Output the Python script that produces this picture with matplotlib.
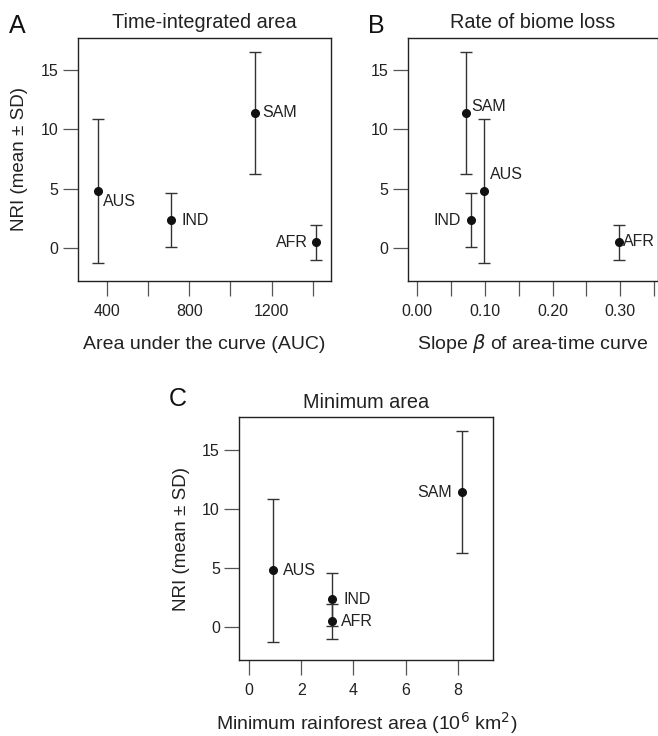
import matplotlib
matplotlib.use("Agg")
import matplotlib.pyplot as plt

plt.rcParams["font.family"] = ["Liberation Sans", "DejaVu Sans"]

# region data (NRI mean and SD are shared by all panels)
regions = ["AUS", "IND", "SAM", "AFR"]
nri_mean = [4.8, 2.33, 11.41, 0.46]
nri_sd = [6.05, 2.27, 5.16, 1.48]

auc = [353, 708, 1120, 1417]
slope = [0.0985, 0.0787, 0.0712, 0.298]
min_area = [0.92, 3.16, 8.15, 3.16]

# label offsets in pixels (dx, dy, ha)
offs_a = {"AUS": (5, -10, "left"), "IND": (11, 0, "left"), "SAM": (7, 0, "left"), "AFR": (-8, 0, "right")}
offs_b = {"AUS": (6, 17, "left"), "IND": (-10, 0, "right"), "SAM": (6, 6, "left"), "AFR": (4, 1, "left")}
offs_c = {"AUS": (10, 0, "left"), "IND": (12, 0, "left"), "SAM": (-10, 0, "right"), "AFR": (9, 0, "left")}

W, H = 658, 736
fig = plt.figure(figsize=(W / 100, H / 100), dpi=100)


def px_axes(l, t, r, b):
    return fig.add_axes([l / W, 1 - b / H, (r - l) / W, (b - t) / H])


def draw(ax, xs, offs, xlim, xticks, xlabels, title, xlabel, xlab_y, ylab_x, show_ylabel=True):
    for name, x, m, s in zip(regions, xs, nri_mean, nri_sd):
        ax.errorbar(x, m, yerr=s, fmt="none", ecolor="#333333", elinewidth=1.0,
                    capsize=4, capthick=1.0)
        ax.plot(x, m, "o", color="#111111", ms=5.5)
        dx, dy, ha = offs[name]
        ax.annotate(name, (x, m), xytext=(dx * 0.72, dy * 0.72), textcoords="offset points",
                    ha=ha, va="center", fontsize=11.5, color="#222222")
    ax.set_xlim(*xlim)
    ax.set_ylim(-2.8, 17.75)
    ax.set_xticks(xticks)
    ax.set_xticklabels(xlabels)
    ax.set_yticks([0, 5, 10, 15])
    ax.tick_params(length=10.5, width=0.9, color="#555555", labelsize=11.5,
                   labelcolor="#222222", direction="out")
    ax.tick_params(axis="x", pad=6)
    ax.tick_params(axis="y", pad=3.5)
    for sp in ax.spines.values():
        sp.set_linewidth(1.0)
        sp.set_color("#222222")
    ax.set_title(title, fontsize=14.3, pad=7, color="#222222")
    ax.set_xlabel(xlabel, fontsize=14, va="baseline", color="#222222")
    ax.xaxis.set_label_coords(0.5, xlab_y)
    if show_ylabel:
        ax.set_ylabel("NRI (mean ± SD)", fontsize=13.5, va="center", color="#222222")
        ax.yaxis.set_label_coords(ylab_x, 0.5)


ax_a = px_axes(78, 37.7, 331, 281)
draw(ax_a, auc, offs_a, (256.5, 1490), [400, 600, 800, 1000, 1200, 1400],
     ["400", "", "800", "", "1200", ""], "Time-integrated area",
     "Area under the curve (AUC)", -68.3 / 243, -58 / 253)

ax_b = px_axes(408, 37.7, 658, 281)
draw(ax_b, slope, offs_b, (-0.0139, 0.356), [0, 0.05, 0.10, 0.15, 0.20, 0.25, 0.30, 0.35],
     ["0.00", "", "0.10", "", "0.20", "", "0.30", ""], "Rate of biome loss",
     r"Slope $\beta$ of area-time curve", -68.3 / 243, 0, show_ylabel=False)

ax_c = px_axes(239.3, 417.3, 493.3, 660)
draw(ax_c, min_area, offs_c, (-0.38, 9.37), [0, 2, 4, 6, 8],
     ["0", "2", "4", "6", "8"], "Minimum area",
     r"Minimum rainforest area (10$^6$ km$^2$)", -70 / 242.7, -57.6 / 254)

for letter, x, y in [("A", 9, 33), ("B", 368, 33), ("C", 169, 406.5)]:
    fig.text(x / W, 1 - y / H, letter, fontsize=18, ha="left", va="baseline", color="#111111")

fig.savefig("out.png", dpi=100)
